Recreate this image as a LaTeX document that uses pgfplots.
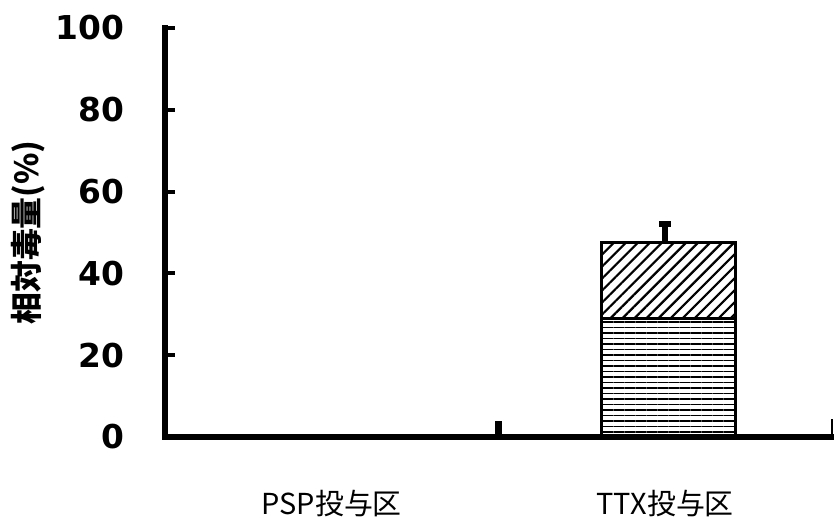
\documentclass[border=0pt]{standalone}
\usepackage{pgfplots}
\pgfplotsset{compat=1.18}
\usepackage{fontspec}
\setmainfont{DejaVu Sans}
\newfontfamily\cjk{Noto Sans CJK JP}
\usetikzlibrary{patterns.meta}
\begin{document}
\begin{tikzpicture}
\path[use as bounding box] (-165bp,-83bp) rectangle (669bp,437bp);
\begin{axis}[
  scale only axis, width=667bp, height=409bp,
  ybar stacked, bar width=134bp, bar shift=3bp,
  xmin=-0.5, xmax=1.5, ymin=0, ymax=100,
  axis x line=bottom, axis y line=left,
  axis line style={-, line width=6bp, line cap=rect},
  xtick={0,1}, xticklabels={{\cjk PSP投与区},{\cjk TTX投与区}},
  x tick style={draw=none},
  xticklabel style={font=\fontsize{29}{29}\selectfont, anchor=center, yshift=-67bp},
  ytick={0,20,...,100},
  y tick style={line width=4bp, black},
  tick align=inside, major tick length=10bp,
  yticklabel style={font=\fontsize{33}{33}\selectfont\bfseries, xshift=-37bp},
  /pgf/number format/assume math mode=true,
  ylabel={\fontsize{32}{32}\selectfont\cjk\bfseries 相対毒量(\%)},
  ylabel style={at={(axis description cs:0,0.5)}, anchor=center, yshift=137bp},
  clip=false,
]
\addplot[draw=black, line width=2.5bp, fill=white, pattern={Lines[angle=0, distance=5.5bp, line width=1.6bp]}]
  coordinates {(0,0) (1,29)};
\addplot[draw=black, line width=2.5bp, fill=white, pattern={Lines[angle=45, distance=8.5bp, line width=2.2bp]},
  error bars/.cd, y dir=plus, y explicit,
  error bar style={line width=6bp, black},
  error mark options={line width=6bp, mark size=6bp, rotate=90, black}]
  coordinates {(0,0) +- (0,0) (1,18.5) +- (0,4.5)};
\draw[line width=7bp] (axis cs:0.5,0) -- (axis cs:0.5,3.8);
\draw[line width=1.5bp] (axis cs:1.5,0) -- (axis cs:1.5,4.5);
\end{axis}
\end{tikzpicture}
\end{document}
